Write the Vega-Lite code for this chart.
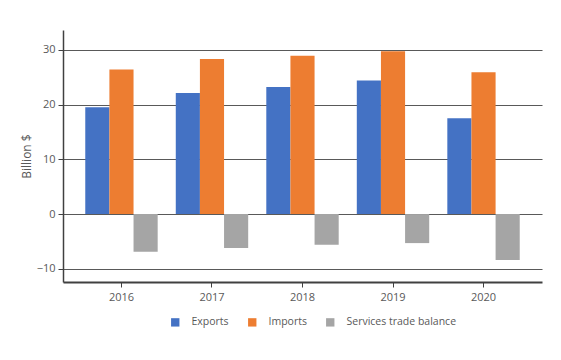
{
  "$schema": "https://vega.github.io/schema/vega-lite/v6.json",
  "width": 479,
  "height": 252,
  "autosize": {"type": "none"},
  "padding": {"left": 63, "top": 30, "right": 19, "bottom": 78},
  "background": "white",
  "data": {
    "values": [
      {"year": "2016", "series": "Exports", "value": 19.5},
      {"year": "2016", "series": "Imports", "value": 26.4},
      {"year": "2016", "series": "Services trade balance", "value": -6.9},
      {"year": "2017", "series": "Exports", "value": 22.1},
      {"year": "2017", "series": "Imports", "value": 28.3},
      {"year": "2017", "series": "Services trade balance", "value": -6.2},
      {"year": "2018", "series": "Exports", "value": 23.2},
      {"year": "2018", "series": "Imports", "value": 28.9},
      {"year": "2018", "series": "Services trade balance", "value": -5.6},
      {"year": "2019", "series": "Exports", "value": 24.4},
      {"year": "2019", "series": "Imports", "value": 29.7},
      {"year": "2019", "series": "Services trade balance", "value": -5.3},
      {"year": "2020", "series": "Exports", "value": 17.5},
      {"year": "2020", "series": "Imports", "value": 25.9},
      {"year": "2020", "series": "Services trade balance", "value": -8.4}
    ]
  },
  "mark": {"type": "bar"},
  "encoding": {
    "x": {
      "field": "year",
      "type": "nominal",
      "scale": {"paddingInner": 0.2, "paddingOuter": 0.246},
      "axis": {
        "title": null,
        "labelAngle": 0,
        "labelFont": "Open Sans",
        "labelFontSize": 11,
        "labelColor": "#595959",
        "labelPadding": 4,
        "domainColor": "#404040",
        "domainWidth": 2,
        "tickColor": "#404040",
        "tickSize": 5,
        "grid": false
      }
    },
    "xOffset": {"field": "series", "type": "nominal", "scale": {"paddingInner": 0, "paddingOuter": 0}},
    "y": {
      "field": "value",
      "type": "quantitative",
      "scale": {"domain": [-12.4, 33.6], "nice": false, "zero": false},
      "axis": {
        "title": "Billion $",
        "titleFont": "Open Sans",
        "titleFontSize": 12,
        "titleFontWeight": "normal",
        "titleColor": "#595959",
        "titlePadding": 3,
        "values": [-10, 0, 10, 20, 30],
        "labelFont": "Open Sans",
        "labelFontSize": 11,
        "labelColor": "#595959",
        "labelPadding": 3,
        "domainColor": "#404040",
        "domainWidth": 1.5,
        "tickColor": "#404040",
        "tickSize": 5,
        "grid": true,
        "gridColor": "#595959",
        "gridWidth": 1.2
      }
    },
    "color": {
      "field": "series",
      "type": "nominal",
      "scale": {
        "domain": ["Exports", "Imports", "Services trade balance"],
        "range": ["#4472C4", "#ED7D31", "#A5A5A5"]
      },
      "legend": {
        "title": null,
        "orient": "none",
        "legendX": 107,
        "legendY": 287,
        "direction": "horizontal",
        "symbolType": "square",
        "symbolSize": 70,
        "symbolStrokeWidth": 0,
        "labelFont": "Open Sans",
        "labelFontSize": 10.5,
        "labelColor": "#595959",
        "labelOffset": 11,
        "columnPadding": 18
      }
    }
  },
  "config": {"view": {"stroke": null}}
}
